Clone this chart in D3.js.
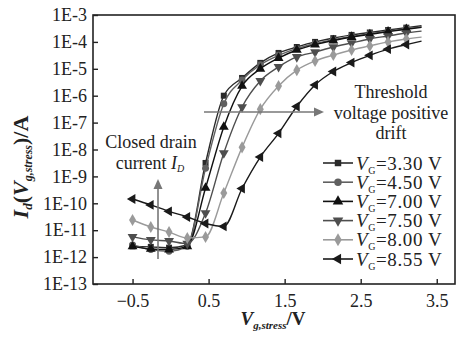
<!DOCTYPE html>
<html><head><meta charset="utf-8">
<script src="https://cdn.jsdelivr.net/npm/d3@7/dist/d3.min.js"></script>
<style>body{margin:0;background:#fff}svg{display:block}svg text{font-family:'Liberation Serif','Times New Roman','DejaVu Serif',serif !important}</style>
</head><body><svg id="c" width="459" height="337"></svg>
<script>
const xVals = [-0.5,-0.26,-0.02,0.22,0.46,0.70,0.94,1.18,1.42,1.66,1.90,2.14,2.38,2.62,2.86,3.10,3.30];
const seriesNames = ["3.30","4.50","7.00","7.50","8.00","8.55"];
// log10 of drain current (A)
const s330 = [-11.6,-11.62,-11.65,-11.55,-8.5,-6.0,-5.34,-4.78,-4.41,-4.19,-4.0,-3.86,-3.74,-3.65,-3.56,-3.47,-3.4];
const s450 = [-11.55,-11.72,-11.78,-11.6,-8.7,-6.3,-5.42,-4.85,-4.5,-4.25,-4.06,-3.92,-3.8,-3.7,-3.6,-3.51,-3.44];
const s700 = [-11.6,-11.7,-11.72,-11.6,-9.43,-7.16,-5.64,-5.0,-4.6,-4.3,-4.1,-3.95,-3.82,-3.72,-3.62,-3.53,-3.46];
const s750 = [-11.25,-11.36,-11.4,-11.5,-10.36,-8.13,-6.42,-5.45,-4.93,-4.56,-4.38,-4.19,-4.04,-3.89,-3.78,-3.67,-3.6];
const s800 = [-10.62,-10.88,-11.07,-11.29,-11.25,-9.62,-7.92,-6.5,-5.64,-5.05,-4.71,-4.49,-4.3,-4.15,-4.0,-3.89,-3.82];
const s855 = [-9.84,-10.06,-10.3,-10.51,-10.75,-10.86,-9.45,-8.28,-7.4,-6.4,-5.6,-5.1,-4.77,-4.5,-4.27,-4.1,-3.97];
const xTicks = [-0.5,0.5,1.5,2.5,3.5];
const yTickExp = [-3,-4,-5,-6,-7,-8,-9,-10,-11,-12,-13];

const seriesData = [s330,s450,s700,s750,s800,s855];
const colors = ["#2a2a2a","#606060","#111111","#4e4e4e","#9a9a9a","#1a1a1a"];
const symbols = [d3.symbolSquare,d3.symbolCircle,d3.symbolTriangle,"tdown",d3.symbolDiamond,"tleft"];

const svg = d3.select("#c");
const L=93,R=455,T=15,B=284;
const x = d3.scaleLinear().domain([-1.02,3.74]).range([L,R]);
const y = d3.scaleLog().domain([1e-13,1e-3]).range([B,T]);

svg.append("rect").attr("x",L).attr("y",T).attr("width",R-L).attr("height",B-T)
  .attr("fill","none").attr("stroke","#222").attr("stroke-width",1.6);

const gx = svg.append("g").attr("transform",`translate(0,${B})`)
  .call(d3.axisBottom(x).tickValues(xTicks).tickSizeInner(-5).tickSizeOuter(0).tickPadding(10)
  .tickFormat(d=>d<0?"\u2212"+Math.abs(d).toFixed(1):d.toFixed(1)));
gx.select(".domain").remove();
gx.selectAll("line").attr("stroke","#222").attr("stroke-width",1.4);
gx.selectAll("text").attr("font-size",18).attr("fill","#222");

const gy = svg.append("g").attr("transform",`translate(${L},0)`)
  .call(d3.axisLeft(y).tickValues(yTickExp.map(e=>Math.pow(10,e))).tickSizeInner(-5).tickSizeOuter(0).tickPadding(6)
  .tickFormat((d,i)=>"1E"+yTickExp[i]));
gy.select(".domain").remove();
gy.selectAll("line").attr("stroke","#222").attr("stroke-width",1.4);
gy.selectAll("text").attr("font-size",18).attr("fill","#222");

function symPath(s,size){
  if(s==="tdown"||s==="tleft") return d3.symbol(d3.symbolTriangle,size)();
  return d3.symbol(s,size)();
}
function symRot(s){ return s==="tdown"?180:(s==="tleft"?-90:0); }
const sizes=[36,38,42,42,42,42];

const line = d3.line().x((d,i)=>x(xVals[i])).y(d=>y(Math.pow(10,d))).curve(d3.curveMonotoneX);
seriesData.forEach((s,k)=>{
  const g = svg.append("g");
  g.append("path").attr("d",line(s)).attr("fill","none").attr("stroke",colors[k]).attr("stroke-width",1.4);
  g.selectAll("path.m").data(s.slice(0,16)).enter().append("path").attr("class","m")
    .attr("d",symPath(symbols[k],sizes[k]))
    .attr("transform",(d,i)=>`translate(${x(xVals[i])},${y(Math.pow(10,d))}) rotate(${symRot(symbols[k])})`)
    .attr("fill",colors[k]);
});

const legY0=163, legDy=19.2;
seriesNames.forEach((n,k)=>{
  const yy = legY0+k*legDy;
  svg.append("line").attr("x1",323).attr("x2",353).attr("y1",yy).attr("y2",yy).attr("stroke",colors[k]).attr("stroke-width",1.6);
  svg.append("path").attr("d",symPath(symbols[k],sizes[k]+6))
    .attr("transform",`translate(338,${yy}) rotate(${symRot(symbols[k])})`).attr("fill",colors[k]);
  const t = svg.append("text").attr("x",356).attr("y",yy+6.5).attr("font-size",19).attr("letter-spacing",0.6).attr("fill","#222");
  t.append("tspan").attr("font-style","italic").text("V");
  t.append("tspan").attr("font-size",10).attr("dy",4).text("G");
  t.append("tspan").attr("dy",-4).text("="+n+" V");
});

svg.append("line").attr("x1",204).attr("x2",316).attr("y1",112).attr("y2",112).attr("stroke","#777").attr("stroke-width",1.6);
svg.append("path").attr("d","M324,112 L314,107.5 L314,116.5 Z").attr("fill","#777");
const th = svg.append("g").attr("font-size",18).attr("fill","#222").attr("text-anchor","middle");
th.append("text").attr("x",391).attr("y",98).text("Threshold");
th.append("text").attr("x",391).attr("y",119).text("voltage positive");
th.append("text").attr("x",391).attr("y",139).text("drift");

svg.append("line").attr("x1",158).attr("x2",158).attr("y1",259).attr("y2",188).attr("stroke","#777").attr("stroke-width",1.6);
svg.append("path").attr("d","M158,179 L153.5,189 L162.5,189 Z").attr("fill","#777");
const cd = svg.append("g").attr("font-size",18).attr("fill","#222").attr("text-anchor","middle");
cd.append("text").attr("x",151).attr("y",148).text("Closed drain");
const ct = cd.append("text").attr("x",150).attr("y",169);
ct.append("tspan").text("current ");
ct.append("tspan").attr("font-style","italic").text("I");
ct.append("tspan").attr("font-style","italic").attr("font-size",10).attr("dy",3).text("D");

const xt = svg.append("text").attr("x",273).attr("y",325).attr("text-anchor","middle").attr("font-size",19).attr("fill","#222").attr("font-weight","bold");
xt.append("tspan").attr("font-style","italic").text("V");
xt.append("tspan").attr("font-style","italic").attr("font-size",11).attr("dy",4).text("g,stress");
xt.append("tspan").attr("dy",-4).text("/V");

const yt = svg.append("text").attr("transform","translate(28,167) rotate(-90)").attr("text-anchor","middle").attr("font-size",22).attr("fill","#222").attr("font-weight","bold");
yt.append("tspan").attr("font-style","italic").text("I");
yt.append("tspan").attr("font-style","italic").attr("font-size",13).attr("dy",4).text("d");
yt.append("tspan").attr("dy",-4).text("(");
yt.append("tspan").attr("font-style","italic").text("V");
yt.append("tspan").attr("font-style","italic").attr("font-size",12).attr("dy",4).text("g,stress");
yt.append("tspan").attr("dy",-4).text(")/A");
</script></body></html>
